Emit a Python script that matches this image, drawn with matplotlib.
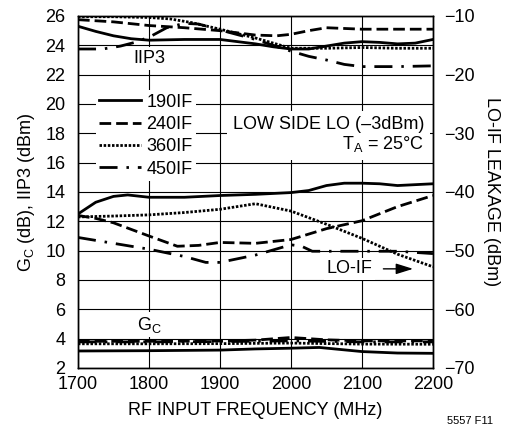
import numpy as np
import matplotlib.pyplot as plt

plt.rcParams['font.family'] = ['Liberation Sans Narrow', 'DejaVu Sans Condensed', 'Liberation Sans', 'DejaVu Sans']
plt.rcParams['mathtext.default'] = 'regular'

labels = ['190IF', '240IF', '360IF', '450IF']

# IIP3 (dBm), left axis
iip3_190_f = [1700, 1725, 1750, 1775, 1800, 1850, 1900, 1950, 1975, 2000, 2025, 2050, 2075, 2100, 2125, 2150, 2175, 2200]
iip3_190 = [25.3, 24.95, 24.65, 24.45, 24.35, 24.4, 24.4, 24.1, 23.9, 23.75, 23.75, 23.95, 24.15, 24.25, 24.2, 24.1, 24.15, 24.4]
iip3_240_f = [1700, 1750, 1800, 1850, 1900, 1950, 1980, 2000, 2025, 2050, 2100, 2200]
iip3_240 = [25.75, 25.6, 25.35, 25.2, 25.0, 24.7, 24.65, 24.75, 25.0, 25.2, 25.1, 25.1]
iip3_360_f = [1700, 1750, 1800, 1830, 1860, 1900, 1950, 2000, 2050, 2100, 2150, 2200]
iip3_360 = [25.95, 25.95, 25.9, 25.8, 25.55, 25.1, 24.5, 23.8, 23.8, 23.85, 23.8, 23.8]
iip3_450_f = [1700, 1735, 1760, 1780, 1800, 1825, 1850, 1870, 1900, 1950, 2000, 2025, 2050, 2075, 2100, 2150, 2200]
iip3_450 = [23.75, 23.75, 23.95, 24.2, 24.55, 25.2, 25.5, 25.45, 25.05, 24.4, 23.6, 23.25, 23.0, 22.7, 22.55, 22.55, 22.6]

# LO-IF leakage (dBm), right axis
lo_190_f = [1700, 1725, 1750, 1770, 1800, 1850, 1900, 1950, 2000, 2025, 2050, 2075, 2100, 2125, 2150, 2175, 2200]
lo_190 = [-43.75, -41.75, -40.75, -40.5, -40.9, -40.9, -40.6, -40.4, -40.1, -39.75, -38.9, -38.5, -38.5, -38.6, -38.9, -38.75, -38.6]
lo_240_f = [1700, 1725, 1750, 1800, 1840, 1870, 1900, 1950, 2000, 2050, 2100, 2150, 2200]
lo_240 = [-44.0, -44.5, -45.25, -47.5, -49.25, -49.1, -48.6, -48.75, -48.1, -46.25, -44.9, -42.5, -40.6]
lo_360_f = [1700, 1750, 1800, 1850, 1900, 1950, 2000, 2050, 2100, 2150, 2200]
lo_360 = [-44.25, -44.1, -43.9, -43.5, -42.95, -42.0, -43.25, -45.5, -47.9, -50.6, -52.75]
lo_450_f = [1700, 1750, 1800, 1850, 1880, 1900, 1950, 2000, 2015, 2030, 2100, 2150, 2200]
lo_450 = [-47.75, -48.75, -49.75, -51.0, -52.0, -52.0, -50.75, -49.0, -49.25, -50.1, -50.1, -50.1, -50.5]

# conversion gain (dB), left axis
gc_190_f = [1700, 1800, 1900, 1950, 2000, 2040, 2100, 2150, 2200]
gc_190 = [3.16, 3.18, 3.22, 3.3, 3.35, 3.4, 3.12, 3.02, 3.0]
gc_240_f = [1700, 1800, 1900, 1950, 2000, 2050, 2100, 2150, 2200]
gc_240 = [3.82, 3.82, 3.84, 3.9, 4.08, 3.92, 3.85, 3.85, 3.85]
gc_360_f = [1700, 1800, 1900, 2000, 2100, 2200]
gc_360 = [3.65, 3.65, 3.66, 3.7, 3.63, 3.62]
gc_450_f = [1700, 1800, 1900, 2000, 2100, 2200]
gc_450 = [3.78, 3.78, 3.8, 3.85, 3.78, 3.78]

styles = ['-', (0, (4.2, 1.8)), (0, (0.9, 0.6)), (0, (6.5, 3.2, 0.9, 3.2))]
lw = 2.0
fs = 13

fig = plt.figure(figsize=(5.11, 4.30), dpi=100)
ax = fig.add_axes([0.1526, 0.1442, 0.6947, 0.8186])
ax2 = ax.twinx()

iip3 = [(iip3_190_f, iip3_190), (iip3_240_f, iip3_240), (iip3_360_f, iip3_360), (iip3_450_f, iip3_450)]
gc = [(gc_190_f, gc_190), (gc_240_f, gc_240), (gc_360_f, gc_360), (gc_450_f, gc_450)]
lo = [(lo_190_f, lo_190), (lo_240_f, lo_240), (lo_360_f, lo_360), (lo_450_f, lo_450)]

handles = []
for i in range(4):
    h, = ax.plot(iip3[i][0], iip3[i][1], color='black', ls=styles[i], lw=lw, label=labels[i])
    handles.append(h)
    ax.plot(gc[i][0], gc[i][1], color='black', ls=styles[i], lw=lw)
    ax2.plot(lo[i][0], lo[i][1], color='black', ls=styles[i], lw=lw)

ax.set_xlim(1700, 2200)
ax.set_ylim(2, 26)
ax2.set_ylim(-70, -10)
ax.set_xticks(np.arange(1700, 2201, 100))
ax.set_yticks(np.arange(2, 27, 2))
ax2.set_yticks(np.arange(-70, -9, 10))
ax.grid(True, color='black', lw=0.8)
ax.set_axisbelow(True)
ax.tick_params(length=0, labelsize=fs, pad=6)
ax.tick_params(axis='y', pad=9)
ax2.tick_params(length=0, labelsize=fs, pad=8)
for a in (ax, ax2):
    for s in a.spines.values():
        s.set_linewidth(1.0)

ax.set_xlabel('RF INPUT FREQUENCY (MHz)', fontsize=fs, labelpad=6)
ax.set_ylabel('$G_C$ (dB), IIP3 (dBm)', fontsize=fs, labelpad=6)
ax2.set_ylabel('LO-IF LEAKAGE (dBm)', fontsize=fs, rotation=270, labelpad=18)

box = dict(facecolor='white', edgecolor='none', pad=2)
ax.text(1800, 23.1, 'IIP3', fontsize=fs, ha='center', va='center', bbox=box)
ax.text(1800, 4.95, '$G_C$', fontsize=fs, ha='center', va='center', bbox=box)
ax.text(2188, 17.9, 'LOW SIDE LO (–3dBm)\n$T_A$ = 25°C', fontsize=fs, ha='right', va='center',
        multialignment='right', linespacing=1.1, bbox=dict(facecolor='white', edgecolor='none', pad=4))
ax2.annotate('LO-IF', xy=(2172, -53.1), xytext=(2050, -53.1), fontsize=fs, ha='left', va='center',
             bbox=dict(facecolor='white', edgecolor='none', pad=2),
             arrowprops=dict(arrowstyle='-|>,head_length=0.8,head_width=0.25', color='black', lw=1,
                             shrinkA=6, shrinkB=0))

leg = ax.legend(handles=handles, loc='upper left', bbox_to_anchor=(0.05, 0.79), fontsize=fs,
                frameon=True, fancybox=False, edgecolor='none', facecolor='white', framealpha=1,
                handlelength=2.3, handletextpad=0.3, labelspacing=0.3, borderpad=0.2, borderaxespad=0)

fig.text(0.92, 0.022, '5557 F11', fontsize=8, ha='center', va='center')

fig.savefig('out.png', dpi=100)
